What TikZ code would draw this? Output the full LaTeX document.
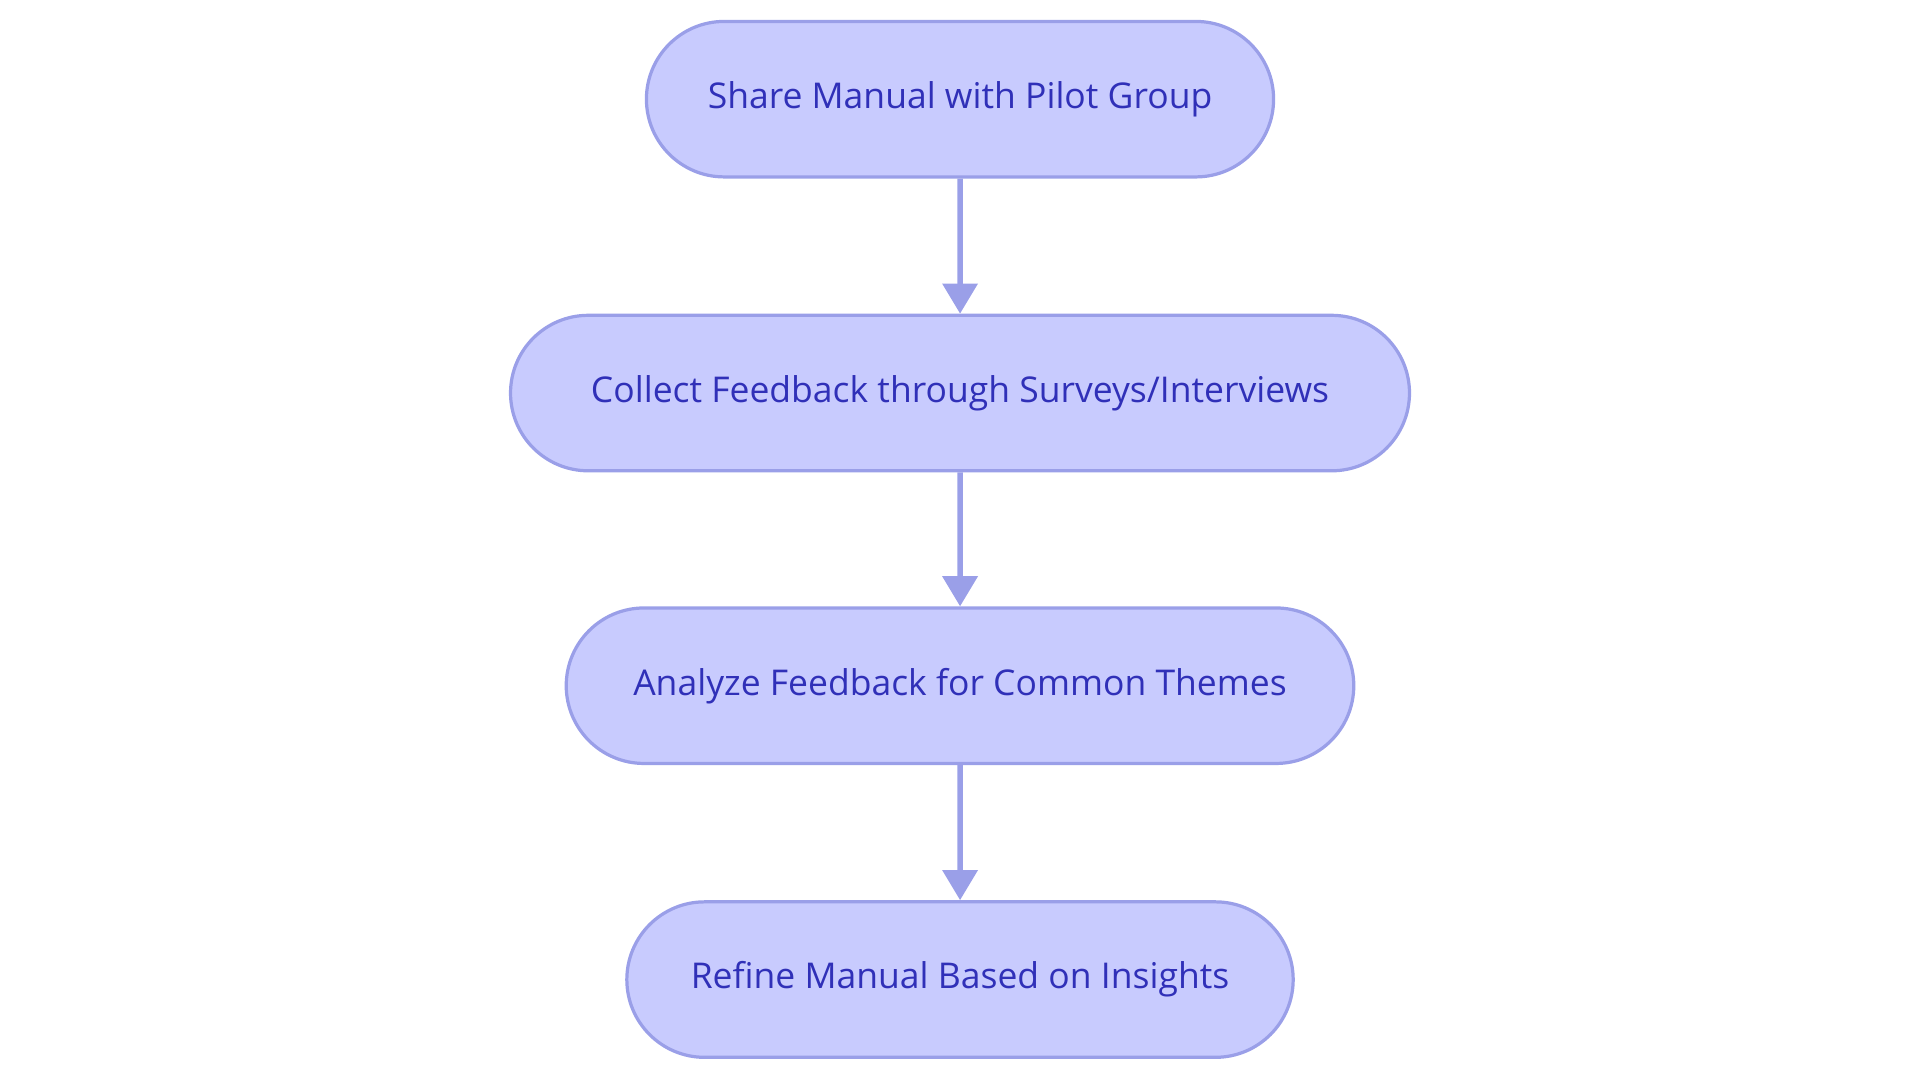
\documentclass[tikz,border=0pt]{standalone}
\usepackage{fontspec}
\setmainfont{Open Sans}
\usetikzlibrary{arrows.meta,shapes.misc}
\definecolor{FillNC}{HTML}{C8CBFE}
\definecolor{LineNC}{HTML}{9A9FE8}
\definecolor{FontColor}{HTML}{3030B8}
\tikzset{
  stepnode/.style={rounded rectangle, draw=LineNC, fill=FillNC, line width=1.5pt,
    minimum height=2.54cm, text=FontColor, font=\fontsize{16.5}{20}\selectfont},
  flow/.style={draw=LineNC, line width=2.5pt, -{Triangle[length=14pt,width=16pt]}}
}
\begin{document}
\begin{tikzpicture}[x=0.02cm,y=-0.02cm]
\useasboundingbox (0,0) rectangle (1568,884);
\node[stepnode, minimum width=10.48cm] (share) at (784,81) {Share Manual with Pilot Group};
\node[stepnode, minimum width=14.92cm] (collect) at (784,321) {Collect Feedback through Surveys/Interviews};
\node[stepnode, minimum width=13.1cm] (analyze) at (784,560) {Analyze Feedback for Common Themes};
\node[stepnode, minimum width=11.12cm] (refine) at (784,800) {Refine Manual Based on Insights};
\draw[flow] (share) -- (collect);
\draw[flow] (collect) -- (analyze);
\draw[flow] (analyze) -- (refine);
\end{tikzpicture}
\end{document}
